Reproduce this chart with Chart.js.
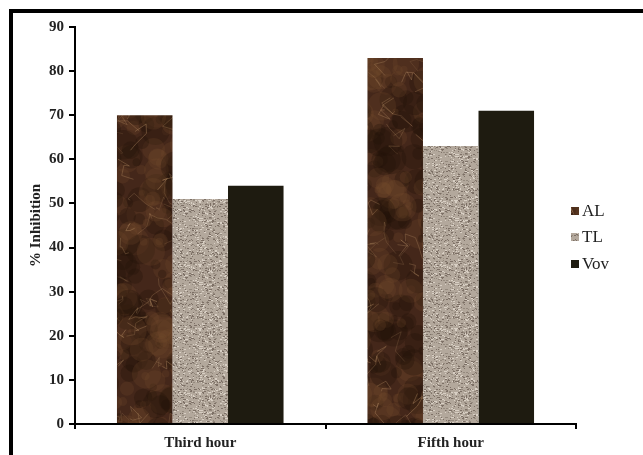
<!DOCTYPE html>
<html>
<head>
<meta charset="utf-8">
<script src="https://cdn.jsdelivr.net/npm/chart.js@4.4.1/dist/chart.umd.min.js"></script>
<style>
  html, body { margin: 0; padding: 0; background: #fff; }
  #wrap { position: relative; width: 643px; height: 455px; overflow: hidden; }
  #frame { position: absolute; left: 9px; top: 9px; width: 700px; height: 500px; border-left: 4px solid #000; border-top: 4px solid #000; box-sizing: border-box; }
  canvas { position: absolute; left: 0; top: 0; }
</style>
</head>
<body>
<div id="wrap">
  <div id="frame"></div>
  <canvas id="c" width="643" height="455"></canvas>
</div>
<script>
const categories = ["Third hour", "Fifth hour"];
const seriesNames = ["AL", "TL", "Vov"];
const alValues = [70, 83];
const tlValues = [51, 63];
const vovValues = [54, 71];
const yTicks = [0, 10, 20, 30, 40, 50, 60, 70, 80, 90];

// deterministic texture generator (style only)
let seed = 12345;
function rnd() { seed = (seed * 1103515245 + 12345) & 0x7fffffff; return seed / 0x7fffffff; }

function marblePattern(ctx) {
  const W = 643, H = 455;
  const c = document.createElement('canvas'); c.width = W; c.height = H;
  const g = c.getContext('2d');
  g.fillStyle = '#44271a'; g.fillRect(0, 0, W, H);
  for (let i = 0; i < 2200; i++) {
    const x = rnd() * W, y = rnd() * H, r = 3 + rnd() * 12;
    g.fillStyle = rnd() < 0.5 ? 'rgba(120,76,44,0.22)' : 'rgba(35,18,8,0.32)';
    g.beginPath(); g.arc(x, y, r, 0, Math.PI * 2); g.fill();
  }
  g.lineWidth = 1;
  for (let i = 0; i < 450; i++) {
    g.strokeStyle = 'rgba(175,135,95,' + (0.15 + rnd() * 0.3) + ')';
    g.beginPath();
    let x = rnd() * W, y = rnd() * H; g.moveTo(x, y);
    for (let k = 0; k < 4; k++) { x += (rnd() - 0.5) * 24; y += (rnd() - 0.5) * 24; g.lineTo(x, y); }
    g.stroke();
  }
  return ctx.createPattern(c, 'no-repeat');
}
function speckPattern(ctx) {
  const c = document.createElement('canvas'); c.width = 64; c.height = 64;
  const g = c.getContext('2d');
  g.fillStyle = '#b3a89c'; g.fillRect(0, 0, 64, 64);
  for (let i = 0; i < 900; i++) {
    const x = Math.floor(rnd() * 64), y = Math.floor(rnd() * 64);
    const t = rnd();
    g.fillStyle = t < 0.4 ? '#7d7066' : (t < 0.75 ? '#d8cfc4' : '#958a7e');
    g.fillRect(x, y, 1 + Math.floor(rnd() * 2), 1);
  }
  return ctx.createPattern(c, 'repeat');
}

const ctx = document.getElementById('c').getContext('2d');
const alFill = marblePattern(ctx);
const tlFill = speckPattern(ctx);
const vovFill = '#1e1b10';

const customLegend = {
  id: 'customLegend',
  afterDraw(chart) {
    const g = chart.ctx;
    const ys = [211, 237, 264];
    g.save();
    chart.data.datasets.forEach((ds, i) => {
      g.fillStyle = ds.backgroundColor;
      g.fillRect(571, ys[i] - 4, 8, 8);
      g.fillStyle = '#222';
      g.font = '17px "Liberation Serif", serif';
      g.textBaseline = 'middle';
      g.textAlign = 'left';
      g.fillText(ds.label, 582, ys[i] + 1);
    });
    g.restore();
  }
};

const tickFont = { family: '"Liberation Serif", serif', size: 15, weight: 'bold' };

new Chart(ctx, {
  type: 'bar',
  data: {
    labels: categories,
    datasets: [
      { label: seriesNames[0], data: alValues, backgroundColor: alFill },
      { label: seriesNames[1], data: tlValues, backgroundColor: tlFill },
      { label: seriesNames[2], data: vovValues, backgroundColor: vovFill }
    ]
  },
  options: {
    responsive: false,
    animation: false,
    events: [],
    layout: { padding: { left: 27, top: 27, right: 67, bottom: 0 } },
    plugins: { legend: { display: false }, tooltip: { enabled: false } },
    datasets: { bar: { categoryPercentage: 0.665, barPercentage: 1.0 } },
    scales: {
      x: {
        afterFit(s) { s.height = 31; },
        border: { color: '#000', width: 2 },
        grid: { offset: true, drawOnChartArea: false, drawTicks: true, tickLength: 5, color: '#000', lineWidth: 2 },
        ticks: { color: '#222', font: tickFont, padding: 5 }
      },
      y: {
        min: 0, max: 90,
        afterFit(s) { s.width = 48; },
        afterBuildTicks(s) { s.ticks = yTicks.map(v => ({ value: v })); },
        border: { color: '#000', width: 2 },
        grid: { drawOnChartArea: false, drawTicks: true, tickLength: 6, color: '#000', lineWidth: 2 },
        ticks: { color: '#222', font: tickFont, padding: 5 },
        title: { display: true, text: '% Inhibition', color: '#222', font: tickFont, padding: 0 }
      }
    }
  },
  plugins: [customLegend]
});
</script>
</body>
</html>
